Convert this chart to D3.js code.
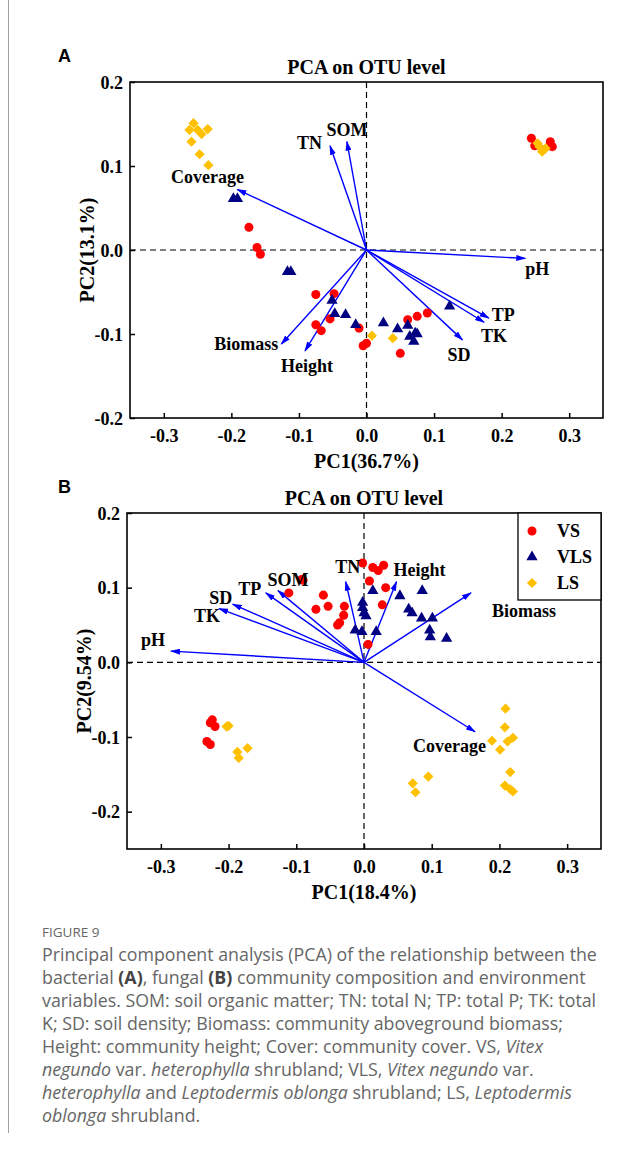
<!DOCTYPE html>
<meta charset="utf-8">
<style>
body{margin:0;background:#fff;}
text{font-family:"Liberation Serif","Times New Roman",serif;font-weight:bold;fill:#000;}
.tick text{font-size:18px;}
.tick line{stroke:#000;stroke-width:1.5px;}
.lab{font-size:18px;}
.ttl{font-size:20px;}
.letter{font-family:"Liberation Sans",Arial,sans-serif;font-size:18px;}
.cap{font-family:"Open Sans",sans-serif;font-weight:400;fill:#666;font-size:17.8px;}
.fig{font-family:"Open Sans",sans-serif;font-weight:400;fill:#666;font-size:13.5px;}
</style>
<body>
<script src="https://cdn.jsdelivr.net/npm/d3@7"></script>
<script>

var groups = ["VS","VLS","LS"];
var xTicks = [-0.3,-0.2,-0.1,0,0.1,0.2,0.3];
var yTicks = [-0.2,-0.1,0,0.1,0.2];

// panel A : bacteria
var aVS = [[0.244,0.133],[0.249,0.124],[0.272,0.129],[0.275,0.123],
	[-0.174,0.027],[-0.162,0.003],[-0.157,-0.005],
	[-0.075,-0.053],[-0.048,-0.052],[-0.054,-0.082],[-0.075,-0.089],[-0.067,-0.096],
	[-0.011,-0.093],[-0.005,-0.114],[0,-0.111],
	[0.05,-0.123],[0.061,-0.083],[0.075,-0.079],[0.09,-0.075]];
var aVLS = [[-0.197,0.061],[-0.191,0.061],[-0.117,-0.026],[-0.112,-0.026],
	[-0.051,-0.06],[-0.047,-0.076],[-0.031,-0.077],[-0.016,-0.089],
	[0.025,-0.087],[0.046,-0.094],[0.061,-0.09],[0.064,-0.103],[0.072,-0.099],
	[0.07,-0.109],[0.075,-0.1],[0.123,-0.067]];
var aLS = [[-0.256,0.151],[-0.262,0.143],[-0.25,0.143],[-0.235,0.144],[-0.244,0.138],
	[-0.259,0.129],[-0.247,0.114],[-0.234,0.101],
	[0.253,0.127],[0.256,0.123],[0.265,0.121],[0.26,0.117],
	[0.008,-0.102],[0.039,-0.105]];
var aArrows = [["TN",-0.054,0.124],["SOM",-0.029,0.129],["Coverage",-0.191,0.072],
	["pH",0.235,-0.01],["TP",0.181,-0.081],["TK",0.174,-0.086],["SD",0.142,-0.107],
	["Biomass",-0.126,-0.112],["Height",-0.091,-0.12]];

// panel B : fungi
var bVS = [[-0.111,0.093],[-0.092,0.111],[-0.09,0.11],[-0.06,0.09],[-0.071,0.071],
	[-0.053,0.075],[-0.029,0.075],[-0.03,0.063],[-0.036,0.053],[-0.039,0.05],
	[-0.002,0.133],[0.013,0.127],[0.021,0.123],[0.029,0.13],[0.008,0.109],
	[0.032,0.1],[0.027,0.077],[0.006,0.024],
	[-0.224,-0.077],[-0.227,-0.081],[-0.22,-0.086],[-0.232,-0.106],[-0.227,-0.11]];
var bVLS = [[0.013,0.096],[-0.002,0.08],[-0.002,0.073],[0,0.066],[0.003,0.062],
	[-0.013,0.043],[-0.003,0.041],[0.018,0.041],
	[0.053,0.089],[0.086,0.096],[0.066,0.071],[0.071,0.066],[0.085,0.059],
	[0.101,0.059],[0.097,0.043],[0.098,0.034],[0.122,0.032]];
var bLS = [[-0.203,-0.086],[-0.2,-0.085],[-0.172,-0.115],[-0.187,-0.12],[-0.185,-0.128],
	[0.209,-0.062],[0.208,-0.087],[0.189,-0.105],[0.212,-0.106],[0.22,-0.101],
	[0.201,-0.117],[0.216,-0.147],[0.208,-0.165],[0.216,-0.17],[0.22,-0.173],
	[0.072,-0.162],[0.076,-0.174],[0.095,-0.153]];
var bArrows = [["pH",-0.285,0.015],["TK",-0.214,0.072],["SD",-0.194,0.078],
	["TP",-0.145,0.093],["SOM",-0.127,0.096],["TN",-0.027,0.108],
	["Height",0.048,0.108],["Biomass",0.158,0.093],["Coverage",0.164,-0.093]];

var caption = [
	[["Principal component analysis (PCA) of the relationship between the",""]],
	[["bacterial ",""],["(A)","b"],[", fungal ",""],["(B)","b"],[" community composition and environment",""]],
	[["variables. SOM: soil organic matter; TN: total N; TP: total P; TK: total",""]],
	[["K; SD: soil density; Biomass: community aboveground biomass;",""]],
	[["Height: community height; Cover: community cover. VS, ",""],["Vitex","i"]],
	[["negundo","i"],[" var. ",""],["heterophylla","i"],[" shrubland; VLS, ",""],["Vitex negundo","i"],[" var.",""]],
	[["heterophylla","i"],[" and ",""],["Leptodermis oblonga","i"],[" shrubland; LS, ",""],["Leptodermis","i"]],
	[["oblonga","i"],[" shrubland.",""]]
];

var color = {VS:"#ff0000", VLS:"#000080", LS:"#ffc000"};
var shape = {VS:d3.symbol().type(d3.symbolCircle).size(64),
	VLS:d3.symbol().type(d3.symbolTriangle).size(55),
	LS:d3.symbol().type(d3.symbolSquare).size(52)};

// label placement relative to arrow tip: dx, dy, anchor
var posA = {TN:[-8,3,"end"],SOM:[0,-6,"middle"],Coverage:[-30,-7,"middle"],pH:[0,17,"start"],
	TP:[3,3,"start"],TK:[-3,20,"start"],SD:[-15,21,"start"],Biomass:[-3,6,"end"],Height:[-24,21,"start"]};
var posB = {pH:[-30,-5,"start"],TK:[-12,13,"middle"],SD:[-12,0,"middle"],TP:[-16,2,"middle"],
	SOM:[10,-5,"middle"],TN:[2,-9,"middle"],Height:[-3,-6,"start"],Biomass:[21,24,"start"],Coverage:[11,20,"end"]};

var svg = d3.select("body").append("svg").attr("width",644).attr("height",1153);

svg.append("line").attr("x1",8.5).attr("x2",8.5).attr("y1",0).attr("y2",1133)
	.attr("stroke","#a0a0a0").attr("stroke-width",1);

svg.append("defs").append("marker").attr("id","head")
	.attr("viewBox","0 0 10 6").attr("refX",9).attr("refY",3)
	.attr("markerWidth",10).attr("markerHeight",6).attr("markerUnits","userSpaceOnUse")
	.attr("orient","auto")
	.append("path").attr("d","M0,0L10,3L0,6z").attr("fill","#0000ff");

var fmt = d => d.toFixed(1);

function drawPanel(p){
	var x = d3.scaleLinear().domain([-0.35,0.35]).range([p.left,p.right]);
	var y = d3.scaleLinear().domain(p.yDomain).range([p.bottom,p.top]);
	var g = svg.append("g");

	g.append("line").attr("x1",p.left).attr("x2",p.right).attr("y1",y(0)).attr("y2",y(0))
		.attr("stroke","#000").attr("stroke-width",1.2).attr("stroke-dasharray","6,4");
	g.append("line").attr("x1",x(0)).attr("x2",x(0)).attr("y1",p.top).attr("y2",p.bottom)
		.attr("stroke","#000").attr("stroke-width",1.2).attr("stroke-dasharray","6,4");

	var ax = g.append("g").attr("transform","translate(0,"+p.bottom+")")
		.call(d3.axisBottom(x).tickValues(xTicks).tickFormat(fmt).tickSizeInner(-5).tickSizeOuter(0).tickPadding(11));
	var ay = g.append("g").attr("transform","translate("+p.left+",0)")
		.call(d3.axisLeft(y).tickValues(yTicks).tickFormat(fmt).tickSizeInner(-5).tickSizeOuter(0).tickPadding(7));
	ax.select(".domain").remove();
	ay.select(".domain").remove();
	ay.selectAll(".tick text").attr("dy","0.35em");

	g.append("rect").attr("x",p.left).attr("y",p.top).attr("width",p.right-p.left).attr("height",p.bottom-p.top)
		.attr("fill","none").attr("stroke","#000").attr("stroke-width",1.6);

	// arrows
	g.selectAll(".arr").data(p.arrows).join("line").attr("class","arr")
		.attr("x1",x(0)).attr("y1",y(0)).attr("x2",d=>x(d[1])).attr("y2",d=>y(d[2]))
		.attr("stroke","#0000ff").attr("stroke-width",1.4).attr("marker-end","url(#head)");

	// points
	groups.forEach(function(k){
		g.selectAll(".p"+k).data(p.pts[k]).join("path").attr("class","p"+k)
			.attr("d",shape[k]())
			.attr("fill",color[k])
			.attr("transform",d=>"translate("+x(d[0])+","+y(d[1])+")"+(k=="LS"?" rotate(45)":""));
	});

	g.selectAll(".vlab").data(p.arrows).join("text").attr("class","vlab lab")
		.attr("x",d=>x(d[1])+p.pos[d[0]][0]).attr("y",d=>y(d[2])+p.pos[d[0]][1])
		.attr("text-anchor",d=>p.pos[d[0]][2]).text(d=>d[0]);

	var cx = (p.left+p.right)/2;
	g.append("text").attr("class","ttl").attr("x",cx).attr("y",p.top-8).attr("text-anchor","middle").text("PCA on OTU level");
	g.append("text").attr("class","ttl").attr("x",cx).attr("y",p.bottom+50).attr("text-anchor","middle").text(p.xTitle);
	g.append("text").attr("class","ttl").attr("transform","translate("+(p.left-36)+","+((p.top+p.bottom)/2)+") rotate(-90)")
		.attr("text-anchor","middle").text(p.yTitle);
	g.append("text").attr("class","letter").attr("x",58).attr("y",p.top-20).text(p.letter);

	if(p.legend){
		var lg = g.append("g").attr("transform","translate("+(p.right-83)+","+p.top+")");
		lg.append("rect").attr("width",83).attr("height",87).attr("fill","#fff").attr("stroke","#000").attr("stroke-width",1.3);
		groups.forEach(function(k,i){
			lg.append("path").attr("d",shape[k]()).attr("fill",color[k])
				.attr("transform","translate(14,"+(18+i*26)+")"+(k=="LS"?" rotate(45)":""));
			lg.append("text").attr("class","lab").attr("x",39).attr("y",18+i*26+6).text(k);
		});
	}
}

drawPanel({left:130,right:603,top:82,bottom:418,yDomain:[-0.2,0.2],
	pts:{VS:aVS,VLS:aVLS,LS:aLS},arrows:aArrows,pos:posA,
	xTitle:"PC1(36.7%)",yTitle:"PC2(13.1%)",letter:"A",legend:false});
drawPanel({left:127,right:601,top:513,bottom:849,yDomain:[-0.25,0.2],
	pts:{VS:bVS,VLS:bVLS,LS:bLS},arrows:bArrows,pos:posB,
	xTitle:"PC1(18.4%)",yTitle:"PC2(9.54%)",letter:"B",legend:true});

svg.append("text").attr("class","fig").attr("x",42).attr("y",937).text("FIGURE 9");
caption.forEach(function(line,i){
	var t = svg.append("text").attr("class","cap").attr("x",42).attr("y",961+i*23);
	line.forEach(function(s){
		var ts = t.append("tspan").text(s[0]);
		if(s[1]=="b") ts.style("font-weight","700").style("fill","#444");
		if(s[1]=="i") ts.style("font-style","italic");
	});
});
</script>
</body>
